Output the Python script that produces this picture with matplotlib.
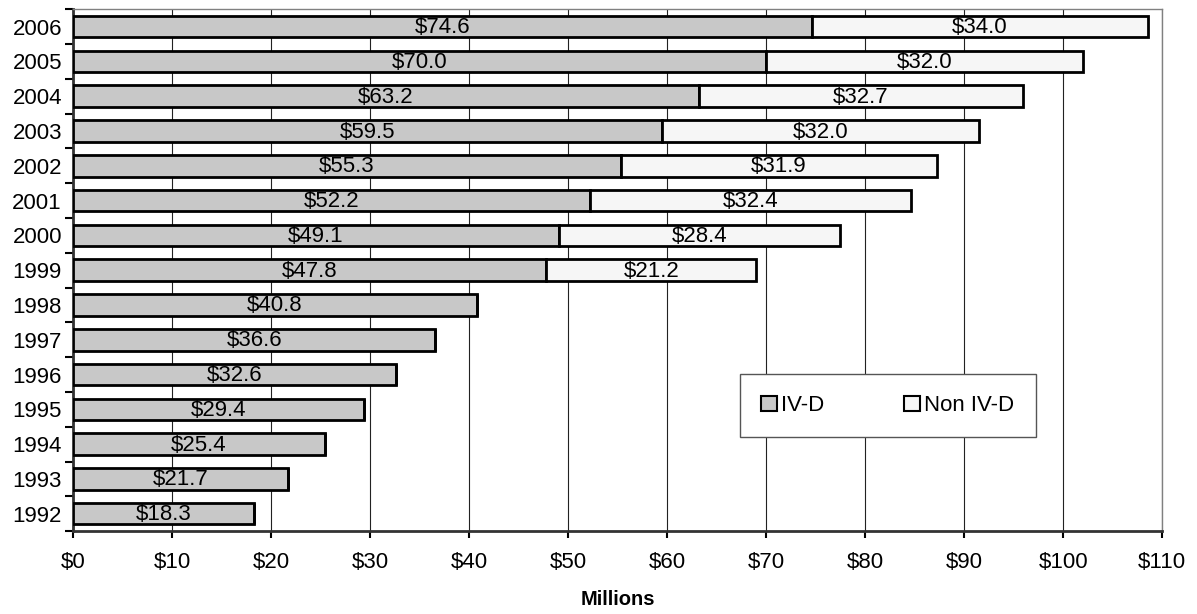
import numpy as np
import matplotlib.pyplot as plt

plt.rcParams['font.family'] = ['Liberation Sans', 'DejaVu Sans']

years = ['1992', '1993', '1994', '1995', '1996', '1997', '1998', '1999',
         '2000', '2001', '2002', '2003', '2004', '2005', '2006']
iv_d = [18.3, 21.7, 25.4, 29.4, 32.6, 36.6, 40.8, 47.8,
        49.1, 52.2, 55.3, 59.5, 63.2, 70.0, 74.6]
non_iv_d = [0, 0, 0, 0, 0, 0, 0, 21.2,
            28.4, 32.4, 31.9, 32.0, 32.7, 32.0, 34.0]
x_ticks = list(range(0, 111, 10))

fs = 16

fig = plt.figure(figsize=(11.97, 6.14), dpi=100)
ax = fig.add_axes([0.061, 0.135, 0.910, 0.850])

y = np.arange(len(years))
h = 0.62
ax.barh(y, iv_d, height=h, color='#c8c8c8', edgecolor='black',
        linewidth=2, label='IV-D', zorder=3)
ax.barh(y, non_iv_d, left=iv_d, height=h, color='#f6f6f6',
        edgecolor='black', linewidth=2, label='Non IV-D', zorder=3)

# value labels centred in each segment
for i in range(len(years)):
    ax.text(iv_d[i] / 2, y[i] - 0.03, f'${iv_d[i]:.1f}', ha='center',
            va='center', fontsize=fs, zorder=4)
    if non_iv_d[i] > 0:
        ax.text(iv_d[i] + non_iv_d[i] / 2, y[i] - 0.03, f'${non_iv_d[i]:.1f}',
                ha='center', va='center', fontsize=fs, zorder=4)

ax.set_xlim(0, 110)
ax.set_ylim(-0.5, len(years) - 0.5)
ax.set_xticks(x_ticks)
ax.set_xticklabels([f'${v}' for v in x_ticks], fontsize=fs)
ax.xaxis.grid(True, color='#222222', linewidth=0.8, zorder=0)
ax.tick_params(axis='x', length=5, width=1.5, pad=10)

# tick marks between categories, labels at the centres
ax.set_yticks(np.arange(-0.5, len(years), 1.0))
ax.set_yticklabels([])
ax.set_yticks(y, minor=True)
ax.set_yticklabels(years, minor=True, fontsize=fs)
ax.tick_params(axis='y', which='major', length=6, width=1.5)
ax.tick_params(axis='y', which='minor', length=0, pad=8)

for s in ['left', 'bottom']:
    ax.spines[s].set_linewidth(2)
    ax.spines[s].set_color('#333333')
for s in ['top', 'right']:
    ax.spines[s].set_linewidth(1)
    ax.spines[s].set_color('#808080')

ax.set_xlabel('Millions', fontsize=14.5, fontweight='bold', labelpad=12)

leg = ax.legend(loc='center', bbox_to_anchor=(0.748, 0.24), ncol=2,
                fontsize=fs, fancybox=False, framealpha=1,
                edgecolor='#555555', handlelength=0.7, handleheight=0.7,
                handletextpad=0.2, columnspacing=3.6, borderpad=0.95,
                borderaxespad=0)
leg.get_frame().set_linewidth(1)
for p in leg.get_patches():
    p.set_linewidth(1.5)
leg.set_zorder(5)

fig.savefig('out.png', dpi=100)
